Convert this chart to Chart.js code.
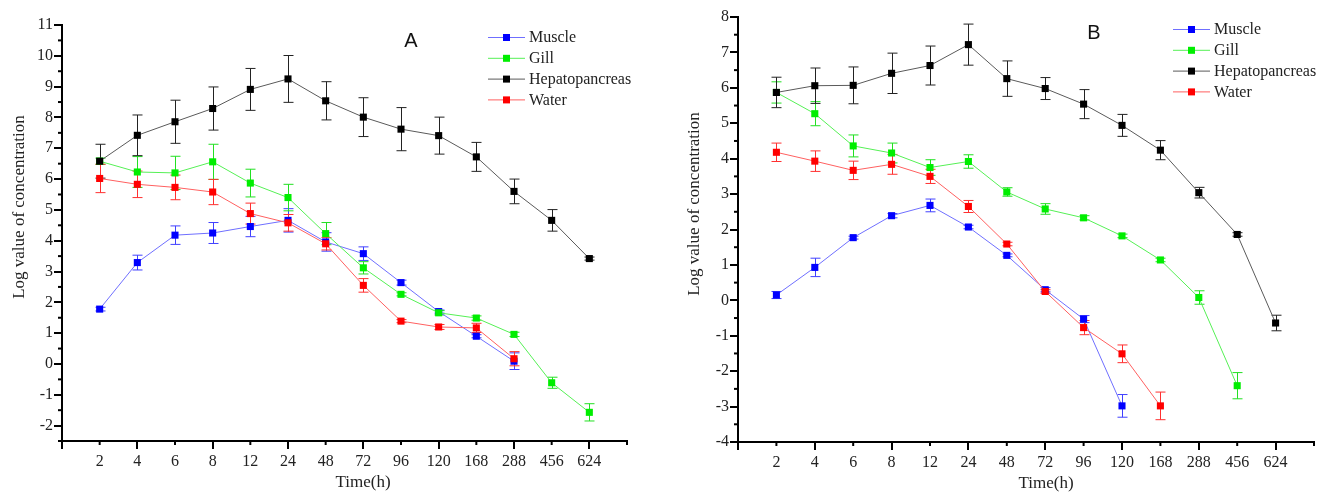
<!DOCTYPE html>
<html>
<head>
<meta charset="utf-8">
<script src="https://cdn.jsdelivr.net/npm/chart.js@4/dist/chart.umd.min.js"></script>
<style>
  html, body { margin: 0; padding: 0; background: #fff; }
  #wrap { display: flex; width: 1322px; height: 494px; }
</style>
</head>
<body>
<div id="wrap">
  <canvas id="chartA" width="660" height="494"></canvas>
  <canvas id="chartB" width="662" height="494"></canvas>
</div>
<script>
// sampling times (h), shown as equally spaced categories
const hours = ['2', '4', '6', '8', '12', '24', '48', '72', '96', '120', '168', '288', '456', '624'];
const seriesNames = ['Muscle', 'Gill', 'Hepatopancreas', 'Water'];

// panel A
const muscleA    = [1.78, 3.29, 4.18, 4.25, 4.46, 4.66, 3.96, 3.58, 2.64, 1.70, 0.90, 0.09];
const muscleAErr = [0.06, 0.24, 0.30, 0.34, 0.33, 0.38, 0.30, 0.22, 0.08, 0.05, 0.05, 0.27];
const gillA      = [6.58, 6.23, 6.20, 6.56, 5.87, 5.40, 4.23, 3.12, 2.26, 1.66, 1.49, 0.96, -0.61, -1.57];
const gillAErr   = [0.10, 0.50, 0.54, 0.57, 0.45, 0.43, 0.36, 0.20, 0.05, 0.07, 0.07, 0.07, 0.18, 0.28];
const hepatoA    = [6.58, 7.42, 7.86, 8.29, 8.91, 9.25, 8.54, 8.01, 7.62, 7.41, 6.72, 5.60, 4.66, 3.42];
const hepatoAErr = [0.55, 0.66, 0.70, 0.70, 0.68, 0.76, 0.62, 0.63, 0.70, 0.60, 0.47, 0.40, 0.35, 0.05];
const waterA     = [6.02, 5.83, 5.73, 5.58, 4.88, 4.58, 3.90, 2.55, 1.39, 1.20, 1.17, 0.17];
const waterAErr  = [0.46, 0.43, 0.40, 0.41, 0.34, 0.27, 0.20, 0.22, 0.05, 0.08, 0.15, 0.23];

// panel B
const muscleB    = [0.15, 0.93, 1.77, 2.39, 2.68, 2.07, 1.27, 0.30, -0.53, -2.98];
const muscleBErr = [0.10, 0.26, 0.04, 0.06, 0.18, 0.05, 0.04, 0.06, 0.10, 0.32];
const gillB      = [5.87, 5.27, 4.36, 4.16, 3.75, 3.92, 3.06, 2.58, 2.33, 1.82, 1.14, 0.08, -2.41];
const gillBErr   = [0.30, 0.34, 0.31, 0.28, 0.22, 0.19, 0.12, 0.15, 0.06, 0.05, 0.05, 0.19, 0.37];
const hepatoB    = [5.87, 6.06, 6.07, 6.41, 6.63, 7.22, 6.26, 5.98, 5.54, 4.94, 4.24, 3.04, 1.86, -0.64];
const hepatoBErr = [0.43, 0.50, 0.52, 0.57, 0.55, 0.58, 0.50, 0.31, 0.41, 0.31, 0.27, 0.15, 0.05, 0.22];
const waterB     = [4.18, 3.93, 3.67, 3.84, 3.50, 2.65, 1.59, 0.25, -0.77, -1.51, -2.98];
const waterBErr  = [0.26, 0.29, 0.26, 0.28, 0.20, 0.17, 0.05, 0.05, 0.20, 0.25, 0.39];

const markColors = ['#0000ff', '#00ee00', '#000000', '#ff0000'];
const lineColors = ['#6f6fff', '#55f055', '#5a5a5a', '#ff6060'];
const errColors  = ['#4040ff', '#22e022', '#222222', '#ff3030'];
const drawOrder  = [3, 2, 1, 0]; // water on top, muscle at bottom

const SERIF = "'Liberation Serif', 'Times New Roman', serif";

// error bars, minor ticks, legend, letter and axis titles
const decor = {
  id: 'decor',
  beforeDatasetsDraw(chart) {
    const ctx = chart.ctx, xs = chart.scales.x, ys = chart.scales.y;
    chart.data.datasets.forEach((ds) => {
      ctx.save();
      ctx.strokeStyle = ds.errColor;
      ctx.lineWidth = 1;
      ds.data.forEach((p, i) => {
        const e = ds.errors[i];
        const px = Math.round(xs.getPixelForValue(p.x)) + 0.5;
        const y1 = ys.getPixelForValue(p.y + e), y2 = ys.getPixelForValue(p.y - e);
        ctx.beginPath();
        ctx.moveTo(px, y1); ctx.lineTo(px, y2);
        ctx.moveTo(px - 5, y1); ctx.lineTo(px + 5, y1);
        ctx.moveTo(px - 5, y2); ctx.lineTo(px + 5, y2);
        ctx.stroke();
      });
      ctx.restore();
    });
  },
  afterDraw(chart, args, o) {
    const ctx = chart.ctx, xs = chart.scales.x, ys = chart.scales.y, area = chart.chartArea;
    ctx.save();
    // minor ticks on both axes
    ctx.strokeStyle = '#000';
    ctx.lineWidth = 2;
    ys.ticks.forEach((t) => {
      if (Number.isInteger(t.value)) return;
      const py = ys.getPixelForValue(t.value);
      ctx.beginPath();
      ctx.moveTo(area.left - 4, py); ctx.lineTo(area.left, py);
      ctx.stroke();
    });
    xs.ticks.forEach((t) => {
      if (Math.round(t.value) % 2 === 0) return;
      const px = xs.getPixelForValue(t.value);
      ctx.beginPath();
      ctx.moveTo(px, area.bottom); ctx.lineTo(px, area.bottom + 4);
      ctx.stroke();
    });
    // legend
    ctx.font = '16px ' + SERIF;
    ctx.textBaseline = 'middle';
    ctx.textAlign = 'left';
    chart.data.datasets.forEach((ds, i) => {
      const y = o.legendY + i * 20.8;
      ctx.strokeStyle = ds.borderColor;
      ctx.lineWidth = 1;
      ctx.beginPath();
      ctx.moveTo(o.legendX, y + 0.5); ctx.lineTo(o.legendX + 37, y + 0.5);
      ctx.stroke();
      ctx.fillStyle = ds.pointBackgroundColor;
      ctx.fillRect(o.legendX + 15, y - 3, 7, 7);
      ctx.fillStyle = '#222';
      ctx.fillText(ds.label, o.legendX + 41, y + 1);
    });
    // panel letter
    ctx.font = '20px "Liberation Sans", Arial, sans-serif';
    ctx.textAlign = 'center';
    ctx.fillStyle = '#111';
    ctx.fillText(o.letter, o.letterX, o.letterY);
    // axis titles
    ctx.font = '17px ' + SERIF;
    ctx.fillStyle = '#222';
    ctx.fillText('Time(h)', o.xTitleX, o.xTitleY);
    ctx.translate(o.yTitleX, o.yTitleY);
    ctx.rotate(-Math.PI / 2);
    ctx.fillText('Log value of concentration', 0, 0);
    ctx.restore();
  }
};

function makeChart(id, values, errors, yMin, yMax, frame, labels) {
  const datasets = values.map((vals, s) => ({
    label: seriesNames[s],
    data: vals.map((v, i) => ({ x: i + 1, y: v })),
    errors: errors[s],
    errColor: errColors[s],
    borderColor: lineColors[s],
    borderWidth: 1,
    pointStyle: 'rect',
    pointRadius: 5,
    pointBorderWidth: 0,
    pointBackgroundColor: markColors[s],
    order: drawOrder[s],
    tension: 0,
    fill: false
  }));
  const axisGrid = {
    display: true, drawOnChartArea: false, drawTicks: true,
    tickLength: 8, tickWidth: 2, lineWidth: 2, color: '#000'
  };
  return new Chart(document.getElementById(id), {
    type: 'line',
    data: { datasets },
    options: {
      responsive: false,
      animation: false,
      layout: { padding: { top: frame.top, right: frame.right, left: 0, bottom: 0 } },
      plugins: { legend: { display: false }, tooltip: { enabled: false }, decor: labels },
      scales: {
        x: {
          type: 'linear', min: 0, max: hours.length + 1,
          afterFit: (s) => { s.height = frame.xHeight; },
          grid: Object.assign({}, axisGrid, {
            tickColor: (c) => Math.round(c.tick.value) % 2 === 0 ? '#000' : 'rgba(0,0,0,0)'
          }),
          border: { display: true, width: 2, color: '#000' },
          ticks: {
            stepSize: 1, autoSkip: false, maxRotation: 0, maxTicksLimit: 100, padding: 3,
            color: '#222', font: { family: SERIF, size: 16 },
            callback: (v) => hours[Math.round(v) - 1] || ''
          }
        },
        y: {
          type: 'linear', min: yMin, max: yMax,
          afterFit: (s) => { s.width = frame.yWidth; },
          grid: Object.assign({}, axisGrid, {
            tickColor: (c) => Number.isInteger(c.tick.value) ? '#000' : 'rgba(0,0,0,0)'
          }),
          border: { display: true, width: 2, color: '#000' },
          ticks: {
            stepSize: 0.5, autoSkip: false, maxTicksLimit: 100, padding: 1,
            color: '#222', font: { family: SERIF, size: 16 },
            callback: (v) => Number.isInteger(v) ? String(v) : ''
          }
        }
      }
    },
    plugins: [decor]
  });
}

makeChart('chartA',
  [muscleA, gillA, hepatoA, waterA],
  [muscleAErr, gillAErr, hepatoAErr, waterAErr],
  -2.5, 11,
  { top: 25, right: 33, yWidth: 62, xHeight: 53 },
  { letter: 'A', letterX: 411, letterY: 41, legendX: 488, legendY: 37,
    xTitleX: 363, xTitleY: 483, yTitleX: 20, yTitleY: 207 });

makeChart('chartB',
  [muscleB, gillB, hepatoB, waterB],
  [muscleBErr, gillBErr, hepatoBErr, waterBErr],
  -4, 8,
  { top: 17, right: 8, yWidth: 78, xHeight: 52 },
  { letter: 'B', letterX: 434, letterY: 33, legendX: 513, legendY: 29,
    xTitleX: 386, xTitleY: 484, yTitleX: 35, yTitleY: 204 });
</script>
</body>
</html>
